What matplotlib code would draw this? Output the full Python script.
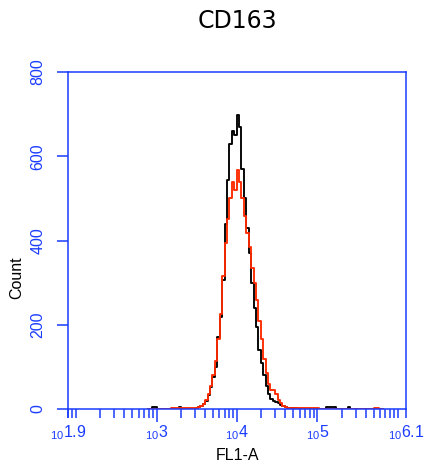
import numpy as np
import matplotlib
matplotlib.use("Agg")
import matplotlib.pyplot as plt
from matplotlib.ticker import FixedLocator, NullFormatter

plt.rcParams['font.family'] = ['Liberation Sans', 'DejaVu Sans']
plt.rcParams['mathtext.fontset'] = 'custom'
plt.rcParams['mathtext.rm'] = 'Liberation Sans'
plt.rcParams['mathtext.it'] = 'Liberation Sans'

# ---- data (log10 channel centers, step 0.03 decade) ----
bin_start, bin_step, n_bins = 2.90, 0.03, 98
black_counts = [0, 0, 4, 4, 0, 0, 0, 0, 0, 0,
                0, 0, 0, 4, 0, 1, 1, 1, 1, 1,
                2, 4, 8, 12, 20, 33, 52, 76, 100, 170,
                218, 306, 440, 544, 630, 660, 650, 698, 669, 570,
                500, 430, 370, 299, 240, 195, 140, 109, 80, 55,
                36, 24, 20, 17, 14, 10, 7, 5, 3, 3,
                3, 3, 1, 0, 0, 0, 0, 0, 0, 0,
                0, 0, 0, 0, 4, 4, 4, 4, 0, 0,
                0, 0, 0, 4, 0, 0, 0, 0, 0, 0,
                0, 0, 0, 0, 0, 0, 0, 0]
red_counts = [0, 0, 0, 0, 0, 0, 0, 0, 0, 0,
              3, 3, 3, 3, 3, 3, 3, 3, 3, 3,
              3, 5, 8, 13, 22, 35, 55, 80, 115, 165,
              225, 315, 395, 450, 500, 540, 520, 568, 540, 500,
              458, 418, 385, 335, 300, 258, 210, 165, 118, 85,
              60, 45, 45, 35, 22, 14, 8, 5, 3, 3,
              3, 3, 3, 3, 3, 3, 3, 3, 3, 3,
              3, 0, 0, 0, 0, 0, 0, 0, 0, 0,
              0, 0, 0, 0, 0, 0, 0, 0, 0, 0,
              0, 0, 0, 0, 3, 3, 0, 0]

title = "CD163"
x_label = "FL1-A"
y_label = "Count"
x_major_exp = [1.9, 3, 4, 5, 6.1]
x_major_labels = [r'$_{10}$1.9', r'$_{10}$3', r'$_{10}$4', r'$_{10}$5', r'$_{10}$6.1']
y_ticks = [0, 200, 400, 600, 800]

blue = '#1a3cff'

bins_log = bin_start + bin_step * np.arange(n_bins)
xvals = 10 ** bins_log

fig = plt.figure(figsize=(4.26, 4.70), dpi=100)
ax = fig.add_axes([68/426, 1 - 409/470, (406-68)/426, (409-72)/470])

ax.step(xvals, black_counts, where='mid', color='black', lw=1.35, zorder=2)
ax.step(xvals, red_counts, where='mid', color='#ff2a00', lw=1.35, zorder=2.1)

ax.set_xscale('log')
ax.set_xlim(10 ** 1.9, 10 ** 6.1)
ax.set_ylim(0, 800)

for s in ax.spines.values():
    s.set_color(blue)
    s.set_linewidth(1.1)
    s.set_zorder(3)

ax.xaxis.set_major_locator(FixedLocator([10 ** e for e in x_major_exp]))
ax.set_xticklabels(x_major_labels)
minor = []
for dec in range(1, 7):
    for m in range(1, 10):
        v = m * 10 ** dec
        if 10 ** 1.9 <= v <= 10 ** 6.1 and dec + np.log10(m) not in (3, 4, 5):
            minor.append(v)
ax.xaxis.set_minor_locator(FixedLocator(minor))
ax.xaxis.set_minor_formatter(NullFormatter())
ax.tick_params(axis='x', which='major', direction='out', length=9.4, width=1.1,
               color=blue, labelcolor=blue, labelsize=11.5, pad=1)
ax.tick_params(axis='x', which='minor', direction='out', length=6.8, width=1.1,
               color=blue)
ticks = ax.xaxis.get_major_ticks()
for i in (0, len(ticks) - 1):
    ticks[i].tick1line.set_markersize(6.8)

ax.set_yticks(y_ticks)
ax.set_yticklabels([str(v) for v in y_ticks], rotation=90, va='center')
ax.tick_params(axis='y', which='major', direction='out', length=7.9, width=1.1,
               color=blue, labelcolor=blue, labelsize=11.5, pad=8.5)

fig.text(237/426, 1 - 21/470, title, ha='center', va='center', fontsize=17,
         family='DejaVu Sans')
fig.text(238/426, 1 - 456/470, x_label, ha='center', va='center', fontsize=11.5)
fig.text(17/426, 1 - 278/470, y_label, ha='center', va='center', fontsize=11.5,
         rotation=90)

fig.savefig('out.png', dpi=100)
